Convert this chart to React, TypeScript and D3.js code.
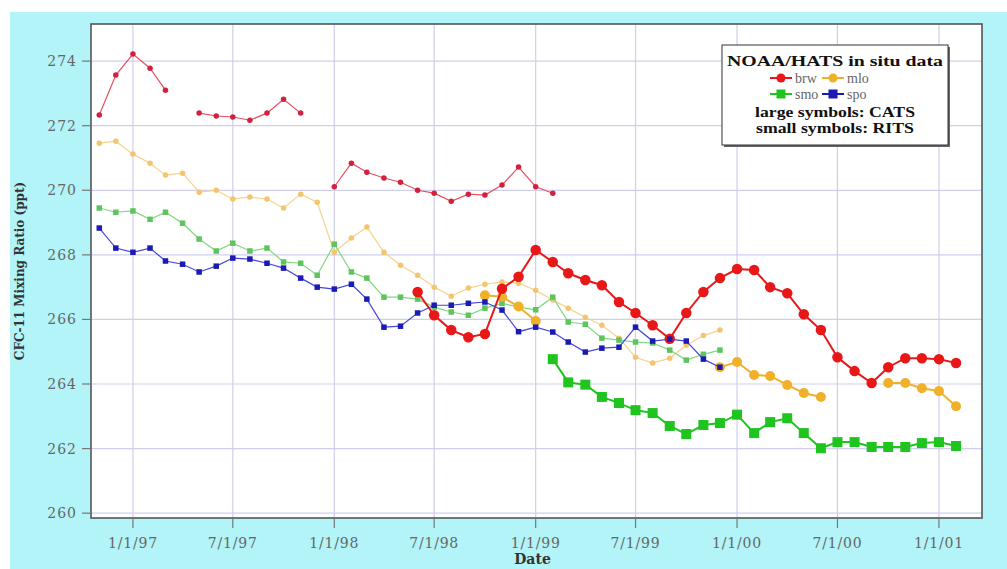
import React from 'react';
import * as d3 from 'd3';

const _ = null;

// monthly sample dates, Nov 1996 .. Feb 2001
const months = d3.utcMonths(new Date(Date.UTC(1996, 10, 1)), new Date(Date.UTC(2001, 2, 1)));

// RITS (small symbols)
const brwRits = [272.33, 273.57, 274.22, 273.78, 273.1, _, 272.39, 272.3, 272.27, 272.17, 272.39, 272.82, 272.39, _,
  270.11, 270.84, 270.56, 270.38, 270.25, 270.0, 269.91, 269.66, 269.88, 269.85, 270.16, 270.72, 270.11, 269.91];
const mloRits = [271.46, 271.52, 271.12, 270.84, 270.47, 270.53, 269.94, 270.0, 269.73, 269.79, 269.73, 269.45, 269.88, 269.63,
  268.08, 268.52, 268.86, 268.08, 267.68, 267.37, 267.0, 266.72, 266.97, 267.09, 267.16, 267.12, 266.9, 266.6, 266.35, 266.07,
  265.82, 265.42, 264.83, 264.65, 264.8, 265.2, 265.5, 265.67];
const smoRits = [269.45, 269.32, 269.36, 269.1, 269.32, 268.98, 268.49, 268.12, 268.36, 268.12, 268.21, 267.78, 267.74, 267.37,
  268.33, 267.47, 267.28, 266.69, 266.69, 266.63, 266.38, 266.23, 266.13, 266.35, 266.5, 266.38, 266.3, 266.69, 265.92, 265.85,
  265.42, 265.36, 265.3, 265.27, 265.05, 264.74, 264.92, 265.05];
const spoRits = [268.83, 268.21, 268.08, 268.21, 267.81, 267.71, 267.47, 267.65, 267.9, 267.87, 267.74, 267.59, 267.28, 267.0,
  266.94, 267.09, 266.63, 265.76, 265.79, 266.2, 266.44, 266.44, 266.5, 266.54, 266.29, 265.62, 265.76, 265.61, 265.3, 264.99,
  265.11, 265.14, 265.76, 265.33, 265.39, 265.33, 264.77, 264.52];

// CATS (large symbols)
const brwCats = [_, _, _, _, _, _, _, _, _, _, _, _, _, _, _, _, _, _, _,
  266.85, 266.13, 265.67, 265.45, 265.55, 266.95, 267.32, 268.15, 267.78, 267.43, 267.22, 267.06, 266.54, 266.2, 265.82, 265.4,
  266.2, 266.85, 267.28, 267.56, 267.53, 267.0, 266.81, 266.16, 265.67, 264.83, 264.4, 264.03, 264.52, 264.8, 264.8, 264.77, 264.65];
const mloCats = [_, _, _, _, _, _, _, _, _, _, _, _, _, _, _, _, _, _, _, _, _, _, _,
  266.75, 266.7, 266.4, 265.95, _, _, _, _, _, _, _, _, _, _,
  264.52, 264.68, 264.28, 264.25, 263.97, 263.72, 263.6, _, _, _, 264.03, 264.03, 263.87, 263.78, 263.31];
const smoCats = [_, _, _, _, _, _, _, _, _, _, _, _, _, _, _, _, _, _, _, _, _, _, _, _, _, _, _,
  264.77, 264.05, 263.98, 263.6, 263.41, 263.19, 263.1, 262.7, 262.45, 262.73, 262.79, 263.05, 262.48, 262.82, 262.94, 262.48,
  262.01, 262.2, 262.2, 262.05, 262.05, 262.05, 262.17, 262.2, 262.08];

const yTicks = [260, 262, 264, 266, 268, 270, 272, 274];
const xTicks = ['1997-01-01', '1997-07-01', '1998-01-01', '1998-07-01', '1999-01-01', '1999-07-01', '2000-01-01', '2000-07-01', '2001-01-01'];

type Shape = 'circle' | 'square';
interface Series { key: string; values: (number | null)[]; line: string; mark: string; shape: Shape; size: number; width: number; }

// drawing order
const series: Series[] = [
  { key: 'brwRits', values: brwRits, line: '#e8505e', mark: '#d0223e', shape: 'circle', size: 5.5, width: 1.2 },
  { key: 'mloRits', values: mloRits, line: '#f7d28c', mark: '#f3c56c', shape: 'circle', size: 5.5, width: 1.2 },
  { key: 'smoRits', values: smoRits, line: '#82d682', mark: '#5ec45e', shape: 'square', size: 5.5, width: 1.2 },
  { key: 'mloCats', values: mloCats, line: '#f0b02a', mark: '#f0b02a', shape: 'circle', size: 10, width: 2 },
  { key: 'smoCats', values: smoCats, line: '#1fc41f', mark: '#1fc41f', shape: 'square', size: 10, width: 2 },
  { key: 'brwCats', values: brwCats, line: '#e81818', mark: '#e81818', shape: 'circle', size: 10.5, width: 2 },
  { key: 'spoRits', values: spoRits, line: '#4646dc', mark: '#1a1ab4', shape: 'square', size: 5.5, width: 1.2 },
];

const legendItems = [
  { label: 'brw', color: '#e81818', shape: 'circle' as Shape },
  { label: 'mlo', color: '#f0b02a', shape: 'circle' as Shape },
  { label: 'smo', color: '#1fc41f', shape: 'square' as Shape },
  { label: 'spo', color: '#1a1ab4', shape: 'square' as Shape },
];

const W = 1007;
const H = 569;
const plot = { left: 91, right: 982, top: 24, bottom: 518 };

const x = d3.scaleUtc()
  .domain([new Date(Date.UTC(1996, 9, 17)), new Date(Date.UTC(2001, 2, 20))])
  .range([plot.left, plot.right]);
const y = d3.scaleLinear().domain([259.85, 275.15]).range([plot.bottom, plot.top]);
const fmt = d3.utcFormat('%-m/%-d/%y');

type Pt = { date: Date; v: number | null };

const Marker: React.FC<{ cx: number; cy: number; shape: Shape; size: number; fill: string }> = ({ cx, cy, shape, size, fill }) =>
  shape === 'circle'
    ? <circle cx={cx} cy={cy} r={size / 2} fill={fill} />
    : <rect x={cx - size / 2} y={cy - size / 2} width={size} height={size} fill={fill} />;

const App: React.FC = () => {
  const line = d3.line<Pt>()
    .defined(d => d.v != null)
    .x(d => x(d.date))
    .y(d => y(d.v as number));

  const serif = '"DejaVu Serif", serif';
  const times = '"Liberation Serif", serif';

  return (
    <svg width={W} height={H} style={{ position: 'absolute', left: 0, top: 0 }} fontFamily={serif}>
      <rect width={W} height={H} fill="#fff" />
      <rect x={10} y={12} width={W - 10} height={H - 12} fill="#b2f4f7" />
      <rect x={plot.left} y={plot.top} width={plot.right - plot.left} height={plot.bottom - plot.top} fill="#fff" />

      {/* grid */}
      {yTicks.map(t => (
        <line key={`gy-${t}`} x1={plot.left} x2={plot.right} y1={y(t)} y2={y(t)} stroke="#cfcfec" strokeWidth={1.2} />
      ))}
      {xTicks.map(t => {
        const xp = x(new Date(t + 'T00:00:00Z'));
        return <line key={`gx-${t}`} x1={xp} x2={xp} y1={plot.top} y2={plot.bottom} stroke="#cfcfec" strokeWidth={1.2} />;
      })}

      {/* series */}
      {series.map(s => {
        const pts: Pt[] = months.map((m, i) => ({ date: m, v: s.values[i] ?? null }));
        return (
          <g key={s.key}>
            <path d={line(pts) ?? ''} fill="none" stroke={s.line} strokeWidth={s.width} />
            {pts.filter(p => p.v != null).map((p, i) => (
              <Marker key={i} cx={x(p.date)} cy={y(p.v as number)} shape={s.shape} size={s.size} fill={s.mark} />
            ))}
          </g>
        );
      })}

      {/* frame */}
      <rect x={plot.left} y={plot.top} width={plot.right - plot.left} height={plot.bottom - plot.top}
        fill="none" stroke="#555" strokeWidth={1.6} />

      {/* y axis */}
      {yTicks.map(t => (
        <g key={`ty-${t}`}>
          <line x1={plot.left - 9} x2={plot.left} y1={y(t)} y2={y(t)} stroke="#777" strokeWidth={1.2} />
          <text x={plot.left - 14} y={y(t) + 5} textAnchor="end" fontSize={14} fill="#666" letterSpacing={1}>{t}</text>
        </g>
      ))}
      {/* x axis */}
      {xTicks.map(t => {
        const d = new Date(t + 'T00:00:00Z');
        const xp = x(d);
        return (
          <g key={`tx-${t}`}>
            <line x1={xp} x2={xp} y1={plot.bottom} y2={plot.bottom + 10} stroke="#777" strokeWidth={1.2} />
            <text x={xp} y={plot.bottom + 30} textAnchor="middle" fontSize={14} fill="#666" letterSpacing={0.8}>{fmt(d)}</text>
          </g>
        );
      })}

      <text transform={`translate(24,${(plot.top + plot.bottom) / 2}) rotate(-90)`} textAnchor="middle"
        fontSize={12} fontWeight="bold" fill="#333">CFC-11 Mixing Ratio (ppt)</text>
      <text x={(plot.left + plot.right) / 2 - 4} y={564} textAnchor="middle" fontSize={14} fontWeight="bold" fill="#333">Date</text>

      {/* legend */}
      <g fontFamily={times}>
        <rect x={724} y={47} width={226} height={100} fill="#666" />
        <rect x={722} y={45} width={226} height={100} fill="#fff" stroke="#333" strokeWidth={1} />
        <text x={835} y={66} textAnchor="middle" fontSize={15} fontWeight="bold" fill="#111"
          textLength={216} lengthAdjust="spacingAndGlyphs">NOAA/HATS  in situ data</text>
        {legendItems.map((l, i) => {
          const lx = 770 + (i % 2) * 52;
          const ly = 78 + Math.floor(i / 2) * 16;
          return (
            <g key={l.label}>
              <line x1={lx} x2={lx + 22} y1={ly} y2={ly} stroke={l.color} strokeWidth={2} />
              <Marker cx={lx + 11} cy={ly} shape={l.shape} size={9} fill={l.color} />
              <text x={lx + 25} y={ly + 5} fontSize={14} fill="#666">{l.label}</text>
            </g>
          );
        })}
        <text x={835} y={117} textAnchor="middle" fontSize={15} fontWeight="bold" fill="#111"
          textLength={160} lengthAdjust="spacingAndGlyphs">large symbols: CATS</text>
        <text x={835} y={133} textAnchor="middle" fontSize={15} fontWeight="bold" fill="#111"
          textLength={158} lengthAdjust="spacingAndGlyphs">small symbols: RITS</text>
      </g>
    </svg>
  );
};

export default App;
